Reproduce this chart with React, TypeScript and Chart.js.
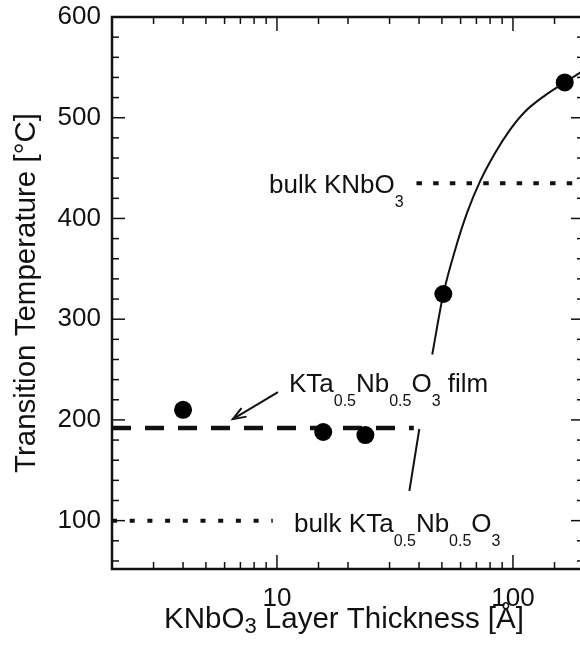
import React, { useEffect, useRef } from 'react';
import { Chart, registerables } from 'chart.js';

Chart.register(...registerables);

const FONT = '"Liberation Sans", Arial, Helvetica, sans-serif';

// measured transition temperatures
const thickness = [4.0, 15.7, 23.7, 50.7, 165.7];
const transitionT = [210, 188, 185, 325, 535];

// guide curve through the thick-layer points
const fitThickness = [45.5, 50.7, 56.9, 64.0, 72.6, 84.0, 97.1, 112.4, 136.5, 165.8, 199.4];
const fitT = [265, 325, 369, 406, 437, 465, 488, 506, 522, 535, 547];

// KTa0.5Nb0.5O3 film level (dashed)
const filmX = [2, 38];
const filmT = [192, 192];

// bulk KNbO3 level (dotted)
const bulkKNX = [39, 200];
const bulkKNT = [435, 435];

// bulk KTa0.5Nb0.5O3 level (dotted)
const bulkKTNX = [2, 9.6];
const bulkKTNT = [100, 100];

// leader lines
const leaderX = [40.1, 36.4];
const leaderT = [191, 129.5];
const arrowX = [10.1, 6.5];
const arrowT = [227.6, 200.8];

// ticks
const xLabelled = [10, 100];
const yLabelled = [100, 200, 300, 400, 500, 600];

const X_MIN = 2;
const X_MAX = 200;
const Y_MIN = 52;
const Y_MAX = 600;

const pts = (xs: number[], ys: number[]) => xs.map((x, i) => ({ x, y: ys[i] }));

type Part = [string, boolean];

function drawRich(ctx: CanvasRenderingContext2D, x: number, y: number, parts: Part[], main: number, sub: number, drop: number, measureOnly = false): number {
  let cx = x;
  for (const [t, isSub] of parts) {
    ctx.font = `${isSub ? sub : main}px ${FONT}`;
    if (!measureOnly) ctx.fillText(t, cx, isSub ? y + drop : y);
    cx += ctx.measureText(t).width;
  }
  return cx - x;
}

const decorPlugin = {
  id: 'decor',
  afterDraw(chart: any) {
    const { ctx, chartArea: a, scales } = chart;
    const xs = scales.x;
    const ys = scales.y;
    ctx.save();
    ctx.strokeStyle = '#111';
    ctx.fillStyle = '#111';

    // frame
    ctx.lineWidth = 2.5;
    ctx.strokeRect(a.left, a.top, a.right - a.left, a.bottom - a.top);

    // inward tick marks
    ctx.lineWidth = 1.5;
    const seg = (x1: number, y1: number, x2: number, y2: number) => {
      ctx.beginPath();
      ctx.moveTo(x1, y1);
      ctx.lineTo(x2, y2);
      ctx.stroke();
    };
    xs.ticks.forEach((t: any) => {
      const px = xs.getPixelForValue(t.value);
      const len = xLabelled.includes(t.value) ? 14 : 7;
      seg(px, a.bottom, px, a.bottom - len);
      seg(px, a.top, px, a.top + len);
    });
    ys.ticks.forEach((t: any) => {
      if (t.value % 20 !== 0) return;
      const py = ys.getPixelForValue(t.value);
      const len = yLabelled.includes(t.value) ? 13 : 7;
      seg(a.left, py, a.left + len, py);
      seg(a.right, py, a.right - len, py);
    });

    // arrowhead on the film pointer
    const sx = xs.getPixelForValue(arrowX[0]);
    const sy = ys.getPixelForValue(arrowT[0]);
    const ex = xs.getPixelForValue(arrowX[1]);
    const ey = ys.getPixelForValue(arrowT[1]);
    const ang = Math.atan2(ey - sy, ex - sx);
    const hl = 14;
    const spread = 0.36;
    ctx.beginPath();
    ctx.moveTo(ex - hl * Math.cos(ang - spread), ey - hl * Math.sin(ang - spread));
    ctx.lineTo(ex, ey);
    ctx.lineTo(ex - hl * Math.cos(ang + spread), ey - hl * Math.sin(ang + spread));
    ctx.lineWidth = 2;
    ctx.stroke();

    // annotations
    ctx.textAlign = 'left';
    ctx.textBaseline = 'alphabetic';
    drawRich(ctx, xs.getPixelForValue(9.25), ys.getPixelForValue(424.8), [['bulk KNbO', false], ['3', true]], 26, 16, 14);
    drawRich(ctx, xs.getPixelForValue(11.24), ys.getPixelForValue(227.6),
      [['KTa', false], ['0.5', true], ['Nb', false], ['0.5', true], ['O', false], ['3', true], [' film', false]], 26, 16, 14);
    drawRich(ctx, xs.getPixelForValue(11.8), ys.getPixelForValue(88.8),
      [['bulk KTa', false], ['0.5', true], ['Nb', false], ['0.5', true], ['O', false], ['3', true]], 26, 16, 14);

    // x axis title
    const xParts: Part[] = [['KNbO', false], ['3', true], [' Layer Thickness [Å]', false]];
    const w = drawRich(ctx, 0, 0, xParts, 29.5, 22, 5, true);
    const cxT = 344;
    drawRich(ctx, cxT - w / 2, 628, xParts, 29.5, 22, 5);

    // y axis title
    ctx.save();
    ctx.translate(27, 293);
    ctx.rotate(-Math.PI / 2);
    ctx.textAlign = 'center';
    ctx.textBaseline = 'middle';
    ctx.font = `29.5px ${FONT}`;
    ctx.fillText('Transition Temperature [°C]', 0, 0);
    ctx.restore();

    ctx.restore();
  },
};

export default function App() {
  const ref = useRef<HTMLCanvasElement | null>(null);

  useEffect(() => {
    if (!ref.current) return;
    const lineDs = (data: any[], extra: any) => ({
      type: 'line',
      data,
      borderColor: '#111',
      backgroundColor: '#111',
      pointRadius: 0,
      pointHoverRadius: 0,
      fill: false,
      tension: 0,
      borderCapStyle: 'butt',
      ...extra,
    });
    const chart = new Chart(ref.current, {
      type: 'scatter',
      data: {
        datasets: [
          {
            type: 'scatter',
            label: 'measured',
            data: pts(thickness, transitionT),
            pointRadius: 9,
            pointHoverRadius: 9,
            backgroundColor: '#000',
            borderColor: '#000',
            borderWidth: 0,
          } as any,
          lineDs(pts(fitThickness, fitT), { label: 'fit', borderWidth: 2, cubicInterpolationMode: 'monotone' }),
          lineDs(pts(filmX, filmT), { label: 'film', borderWidth: 4.5, borderDash: [19, 14] }),
          lineDs(pts(bulkKNX, bulkKNT), { label: 'bulk KNbO3', borderWidth: 4, borderDash: [5.5, 11.2] }),
          lineDs(pts(bulkKTNX, bulkKTNT), { label: 'bulk KTN', borderWidth: 4, borderDash: [5, 12.7] }),
          lineDs(pts(leaderX, leaderT), { label: 'leader', borderWidth: 2 }),
          lineDs(pts(arrowX, arrowT), { label: 'arrow', borderWidth: 2 }),
        ] as any,
      },
      options: {
        animation: false,
        responsive: false,
        devicePixelRatio: 1,
        events: [],
        layout: { padding: { top: 17, right: 16, left: 0, bottom: 0 } },
        plugins: {
          legend: { display: false },
          tooltip: { enabled: false },
          title: { display: false },
        },
        scales: {
          x: {
            type: 'logarithmic',
            min: X_MIN,
            max: X_MAX,
            grid: { display: false, drawTicks: false },
            border: { display: false },
            ticks: {
              autoSkip: false,
              maxRotation: 0,
              minRotation: 0,
              padding: 14,
              color: '#111',
              font: { family: FONT, size: 26 },
              callback: (v: any) => (xLabelled.includes(Number(v)) ? String(v) : ''),
            },
            afterFit: (s: any) => {
              s.height = 90;
              s.paddingLeft = 0;
              s.paddingRight = 0;
            },
          },
          y: {
            type: 'linear',
            min: Y_MIN,
            max: Y_MAX,
            grid: { display: false, drawTicks: false },
            border: { display: false },
            ticks: {
              stepSize: 20,
              includeBounds: false,
              autoSkip: false,
              padding: 11,
              color: '#111',
              font: { family: FONT, size: 26 },
              callback: (v: any) => (yLabelled.includes(Number(v)) ? String(v) : ''),
            },
            afterFit: (s: any) => {
              s.width = 112;
              s.paddingTop = 0;
              s.paddingBottom = 0;
            },
          },
        },
      } as any,
      plugins: [decorPlugin],
    });
    return () => chart.destroy();
  }, []);

  return (
    <div style={{ position: 'fixed', left: 0, top: 0, width: 580, height: 659, overflow: 'hidden', background: '#fff' }}>
      <canvas ref={ref} width={600} height={659} style={{ width: 600, height: 659, display: 'block' }} />
    </div>
  );
}
